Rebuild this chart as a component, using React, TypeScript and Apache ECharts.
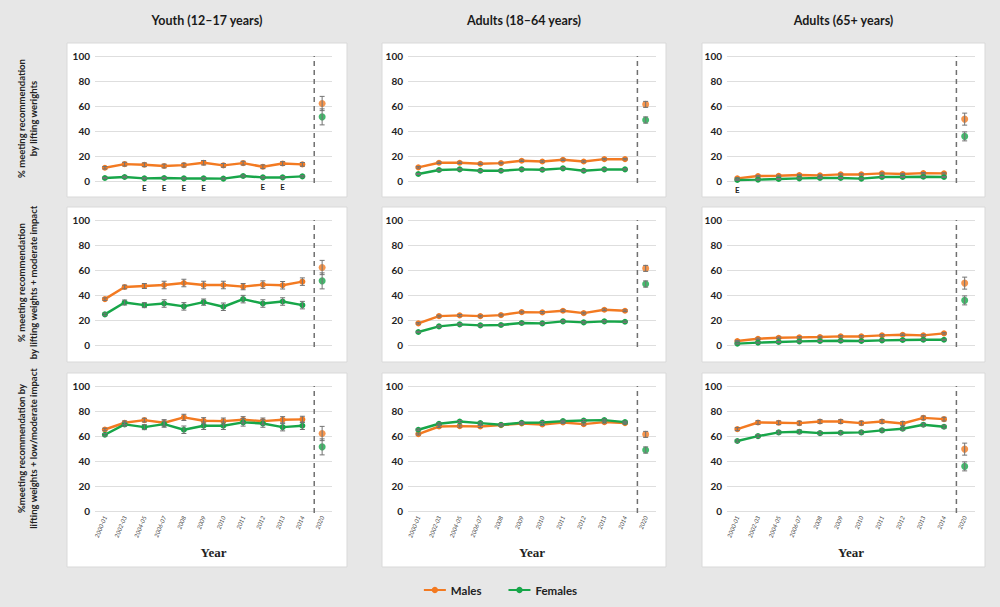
import React, { useEffect, useRef } from 'react';
import * as echarts from 'echarts';

const categories = ['2000-01', '2002-03', '2004-05', '2006-07', '2008', '2009', '2010', '2011', '2012', '2013', '2014', '2020'];
const groupTitles = ['Youth (12–17 years)', 'Adults (18–64 years)', 'Adults (65+ years)'];
const measureNames = [
  '% meeting recommendation\nby lifting werights',
  '% meeting recommendation\nby lifting weights + moderate impact',
  '%meeting recommendation by\nlifting weights + low/moderate impact',
];
const legendNames = ['Males', 'Females'];
const xAxisName = 'Year';
const estimateMark = 'E';

// Youth (12–17 years)
const youthWeightsMales = [10.6, 13.5, 13, 12, 12.7, 14.6, 12.5, 14.3, 11.4, 14, 13.3, 62];
const youthWeightsMalesErr = [1, 1.5, 1.5, 1.5, 1.5, 1.8, 1.5, 1.5, 1.5, 1.5, 1.5, 5.7];
const youthWeightsFemales = [2.4, 3.2, 2.1, 2.4, 2.1, 2.1, 1.9, 4, 2.9, 2.9, 3.7, 51.3];
const youthWeightsFemalesErr = [0.5, 0.6, 0.5, 0.5, 0.5, 0.5, 0.5, 0.7, 0.6, 0.6, 0.6, 6.4];
const youthWeightsFemalesEstimate = [0, 0, 1, 1, 1, 1, 0, 0, 1, 1, 0, 0];

const youthModerateMales = [36.7, 46.4, 47.2, 48, 49.6, 48, 48, 46.7, 48.3, 47.8, 50.7, 62];
const youthModerateMalesErr = [1, 1.5, 2, 3, 3, 3, 3, 2.5, 3, 3, 3, 5.7];
const youthModerateFemales = [24.5, 34, 31.9, 33.2, 30.9, 34.3, 30.6, 36.7, 33.2, 34.8, 31.9, 51.3];
const youthModerateFemalesErr = [1, 2, 2, 3, 3, 2.5, 3, 3, 3, 3, 3, 6.4];

const youthLowModMales = [65.2, 70.6, 72.7, 70.6, 74.9, 72.2, 71.9, 73, 71.9, 73, 73.3, 62];
const youthLowModMalesErr = [1, 1.5, 1.5, 2.5, 2.5, 2.5, 2.5, 2.5, 2.5, 2.5, 2.5, 5.7];
const youthLowModFemales = [61, 69.3, 67.1, 69.5, 65, 68.2, 68.2, 70.9, 70, 67.1, 68.2, 51.3];
const youthLowModFemalesErr = [1, 1.5, 2, 2.5, 3, 3, 3, 3, 3, 3, 3, 6.4];

// Adults (18–64 years)
const adultWeightsMales = [10.9, 14.6, 14.6, 13.8, 14.3, 16.2, 15.6, 17, 15.6, 17.5, 17.5, 61.3];
const adultWeightsMalesErr = [0.6, 0.6, 0.6, 0.6, 0.6, 0.6, 0.6, 0.6, 0.6, 0.6, 0.6, 2.4];
const adultWeightsFemales = [5.6, 8.8, 9.3, 8.2, 8.2, 9.3, 9, 10.1, 8.2, 9.3, 9.3, 48.8];
const adultWeightsFemalesErr = [0.4, 0.5, 0.5, 0.5, 0.5, 0.5, 0.5, 0.5, 0.5, 0.5, 0.5, 2.5];

const adultModerateMales = [17.3, 23.1, 23.7, 23.1, 23.9, 26.3, 26.1, 27.4, 25.5, 28.2, 27.4, 61.3];
const adultModerateMalesErr = [0.6, 0.7, 0.7, 0.7, 0.7, 0.7, 0.7, 0.7, 0.7, 0.7, 0.7, 2.4];
const adultModerateFemales = [10.4, 14.9, 16.5, 15.7, 16, 17.6, 17.3, 18.9, 18.1, 18.9, 18.6, 48.8];
const adultModerateFemalesErr = [0.5, 0.6, 0.6, 0.6, 0.6, 0.6, 0.6, 0.6, 0.6, 0.6, 0.6, 2.5];

const adultLowModMales = [61.5, 67.6, 67.9, 67.6, 68.7, 70, 69.2, 70.8, 69.5, 71.1, 70.3, 61.3];
const adultLowModMalesErr = [0.7, 0.8, 0.8, 0.8, 0.8, 0.8, 0.8, 0.8, 0.8, 0.8, 0.8, 2.4];
const adultLowModFemales = [65, 69.8, 71.6, 70.3, 69, 70.6, 70.8, 71.9, 72.4, 72.7, 71.1, 48.8];
const adultLowModFemalesErr = [0.7, 0.8, 0.8, 0.8, 0.8, 0.8, 0.8, 0.8, 0.8, 0.8, 0.8, 2.5];

// Adults (65+ years)
const seniorWeightsMales = [2.1, 4, 4.2, 4.8, 4.5, 5.3, 5.3, 6.1, 5.6, 6.3, 6.1, 49.5];
const seniorWeightsMalesErr = [0.5, 0.5, 0.5, 0.5, 0.5, 0.5, 0.5, 0.5, 0.5, 0.5, 0.5, 4.8];
const seniorWeightsFemales = [0.8, 1.1, 1.6, 2.1, 2.4, 2.4, 1.9, 3.2, 3.2, 3.4, 3.2, 35.7];
const seniorWeightsFemalesErr = [0.3, 0.4, 0.4, 0.4, 0.4, 0.4, 0.4, 0.4, 0.4, 0.4, 0.4, 3.6];
const seniorWeightsFemalesEstimate = [1, 0, 0, 0, 0, 0, 0, 0, 0, 0, 0, 0];

const seniorModerateMales = [3.2, 5, 5.8, 6.1, 6.4, 6.9, 6.9, 7.7, 8.2, 7.7, 9.3, 49.5];
const seniorModerateMalesErr = [0.5, 0.6, 0.6, 0.6, 0.6, 0.6, 0.6, 0.6, 0.6, 0.6, 0.6, 4.8];
const seniorModerateFemales = [1.1, 1.9, 2.4, 2.9, 3.2, 3.4, 3.2, 3.7, 4, 4.2, 4.2, 35.7];
const seniorModerateFemalesErr = [0.4, 0.4, 0.4, 0.4, 0.4, 0.4, 0.4, 0.4, 0.4, 0.4, 0.4, 3.6];

const seniorLowModMales = [65.5, 70.8, 70.6, 70.3, 71.6, 71.6, 70.3, 71.6, 70, 74.5, 73.5, 49.5];
const seniorLowModMalesErr = [1.2, 1.5, 1.5, 1.5, 1.5, 1.5, 1.5, 1.5, 1.5, 1.5, 1.5, 4.8];
const seniorLowModFemales = [56, 59.9, 62.9, 63.4, 62.3, 62.6, 62.9, 64.5, 65.8, 69, 67.4, 35.7];
const seniorLowModFemalesErr = [1, 1.2, 1.2, 1.5, 1.2, 1.2, 1.2, 1.2, 1.2, 1.2, 1.2, 3.6];

const noEstimate = [0, 0, 0, 0, 0, 0, 0, 0, 0, 0, 0, 0];

type Panel = {
  col: number; row: number;
  m: number[]; mErr: number[]; f: number[]; fErr: number[]; est: number[];
};

const panels: Panel[] = [
  { col: 0, row: 0, m: youthWeightsMales, mErr: youthWeightsMalesErr, f: youthWeightsFemales, fErr: youthWeightsFemalesErr, est: youthWeightsFemalesEstimate },
  { col: 0, row: 1, m: youthModerateMales, mErr: youthModerateMalesErr, f: youthModerateFemales, fErr: youthModerateFemalesErr, est: noEstimate },
  { col: 0, row: 2, m: youthLowModMales, mErr: youthLowModMalesErr, f: youthLowModFemales, fErr: youthLowModFemalesErr, est: noEstimate },
  { col: 1, row: 0, m: adultWeightsMales, mErr: adultWeightsMalesErr, f: adultWeightsFemales, fErr: adultWeightsFemalesErr, est: noEstimate },
  { col: 1, row: 1, m: adultModerateMales, mErr: adultModerateMalesErr, f: adultModerateFemales, fErr: adultModerateFemalesErr, est: noEstimate },
  { col: 1, row: 2, m: adultLowModMales, mErr: adultLowModMalesErr, f: adultLowModFemales, fErr: adultLowModFemalesErr, est: noEstimate },
  { col: 2, row: 0, m: seniorWeightsMales, mErr: seniorWeightsMalesErr, f: seniorWeightsFemales, fErr: seniorWeightsFemalesErr, est: seniorWeightsFemalesEstimate },
  { col: 2, row: 1, m: seniorModerateMales, mErr: seniorModerateMalesErr, f: seniorModerateFemales, fErr: seniorModerateFemalesErr, est: noEstimate },
  { col: 2, row: 2, m: seniorLowModMales, mErr: seniorLowModMalesErr, f: seniorLowModFemales, fErr: seniorLowModFemalesErr, est: noEstimate },
];

// layout (px)
const FONT = "Lato, 'Open Sans', sans-serif";
const ORANGE = '#f37a21';
const GREEN = '#17a649';
const ERR = '#737373';
const gridLeft = [95, 408, 727];
const gridWidth = [237, 248, 248];
const gridTop = [56, 220, 386];
const gridHeight = 125;
const boxX = [67, 382, 702];
const boxW = [280, 284, 283];
const boxY = [43, 207, 373];
const boxH = [154, 155, 194];

export default function App() {
  const ref = useRef<HTMLDivElement>(null);

  useEffect(() => {
    document.body.style.margin = '0';
    document.body.style.background = '#e7e7e7';
    if (!ref.current) return;
    const chart = echarts.init(ref.current, undefined, { renderer: 'svg' });

    const errorRender = (params: any, api: any) => {
      const x = api.value(0);
      const lo = api.coord([x, api.value(1)]);
      const hi = api.coord([x, api.value(2)]);
      const w = 2.5;
      const style = { stroke: ERR, lineWidth: 1 };
      return {
        type: 'group',
        children: [
          { type: 'line', shape: { x1: lo[0], y1: lo[1], x2: hi[0], y2: hi[1] }, style },
          { type: 'line', shape: { x1: lo[0] - w, y1: lo[1], x2: lo[0] + w, y2: lo[1] }, style },
          { type: 'line', shape: { x1: hi[0] - w, y1: hi[1], x2: hi[0] + w, y2: hi[1] }, style },
        ],
      };
    };

    const dividerRender = (params: any, api: any) => {
      const a = api.coord([api.value(0), 0]);
      const b = api.coord([api.value(1), 100]);
      const x = a[0] + 0.6 * (b[0] - a[0]);
      return {
        type: 'line',
        shape: { x1: x, y1: a[1] + 2, x2: x, y2: b[1] },
        style: { stroke: '#707070', lineWidth: 1.5, lineDash: [5, 4] },
      };
    };

    const grid: any[] = [];
    const xAxis: any[] = [];
    const yAxis: any[] = [];
    const series: any[] = [];

    panels.forEach((p, i) => {
      grid.push({ left: gridLeft[p.col], top: gridTop[p.row], width: gridWidth[p.col], height: gridHeight });
      const bottomRow = p.row === 2;
      xAxis.push({
        type: 'category', gridIndex: i, data: categories, boundaryGap: true,
        axisLine: { show: false }, axisTick: { show: false },
        axisLabel: bottomRow
          ? { show: true, interval: 0, rotate: 68, fontSize: 6, fontStyle: 'italic', color: '#444', margin: 5, fontFamily: FONT }
          : { show: false },
        name: bottomRow ? xAxisName : '',
        nameLocation: 'middle', nameGap: 35,
        nameTextStyle: { fontFamily: "'Liberation Serif', serif", fontWeight: 'bold', fontSize: 13, color: '#222' },
      });
      yAxis.push({
        type: 'value', gridIndex: i, min: 0, max: 100, interval: 20,
        axisLine: { show: false }, axisTick: { show: false },
        axisLabel: { fontWeight: 'bold', fontSize: 10, color: '#222', margin: 5, fontFamily: FONT },
        splitLine: { lineStyle: { color: '#dedede', width: 1 } },
        name: p.col === 0 ? measureNames[p.row] : '',
        nameLocation: 'middle', nameRotate: 90, nameGap: 56,
        nameTextStyle: { fontFamily: FONT, fontWeight: 'bold', fontSize: 9.5, color: '#222', lineHeight: 11.5 },
      });
      const lineBase = {
        type: 'line', xAxisIndex: i, yAxisIndex: i, symbol: 'circle', symbolSize: 6,
        z: 2,
      };
      series.push({
        ...lineBase, name: legendNames[0], color: ORANGE,
        lineStyle: { width: 2.5, color: ORANGE }, itemStyle: { color: ORANGE },
        data: p.m.slice(0, 11),
      });
      series.push({
        ...lineBase, name: legendNames[1], color: GREEN,
        lineStyle: { width: 2.5, color: GREEN }, itemStyle: { color: GREEN },
        data: p.f.slice(0, 11).map((v, k) =>
          p.est[k]
            ? {
                value: v,
                label: {
                  show: true, formatter: estimateMark, position: 'bottom', distance: 3,
                  fontSize: 8, fontWeight: 'bold', color: '#222', fontFamily: FONT,
                },
              }
            : v),
      });
      series.push({
        type: 'scatter', xAxisIndex: i, yAxisIndex: i, symbol: 'circle', symbolSize: 7,
        itemStyle: { color: ORANGE }, z: 2,
        data: [[categories[11], p.m[11]]],
      });
      series.push({
        type: 'scatter', xAxisIndex: i, yAxisIndex: i, symbol: 'circle', symbolSize: 7,
        itemStyle: { color: GREEN }, z: 2,
        data: [[categories[11], p.f[11]]],
      });
      series.push({
        type: 'custom', xAxisIndex: i, yAxisIndex: i, z: 3, renderItem: errorRender,
        encode: { x: 0, y: [1, 2] },
        data: categories.flatMap((c, k) => [
          [k, p.m[k] - p.mErr[k], p.m[k] + p.mErr[k]],
          [k, p.f[k] - p.fErr[k], p.f[k] + p.fErr[k]],
        ]),
      });
      series.push({
        type: 'custom', xAxisIndex: i, yAxisIndex: i, z: 1, renderItem: dividerRender,
        encode: { x: 0 },
        data: [[categories.length - 2, categories.length - 1]],
      });
    });

    const graphicEls: any[] = [];
    for (let c = 0; c < 3; c++) {
      for (let r = 0; r < 3; r++) {
        graphicEls.push({
          type: 'rect', z: -10,
          shape: { x: boxX[c], y: boxY[r], width: boxW[c], height: boxH[r] },
          style: { fill: '#ffffff', stroke: '#d9d9d9', lineWidth: 1 },
          silent: true,
        });
      }
      graphicEls.push({
        type: 'text', z: 10,
        x: boxX[c] + boxW[c] / 2, y: 20,
        style: {
          text: groupTitles[c], fontFamily: FONT, fontWeight: 'bold', fontSize: 12.5, fill: '#1a1a1a',
          textAlign: 'center', textVerticalAlign: 'middle',
        },
      });
    }

    chart.setOption({
      animation: false,
      backgroundColor: '#e7e7e7',
      textStyle: { fontFamily: FONT },
      graphic: { elements: graphicEls },
      legend: {
        data: legendNames, top: 579, left: 'center', itemWidth: 22, itemHeight: 8, itemGap: 26,
        textStyle: { fontFamily: FONT, fontWeight: 'bold', fontSize: 11.5, color: '#222' },
      },
      grid, xAxis, yAxis, series,
    });

    return () => chart.dispose();
  }, []);

  return <div ref={ref} style={{ width: 1000, height: 607 }} />;
}
